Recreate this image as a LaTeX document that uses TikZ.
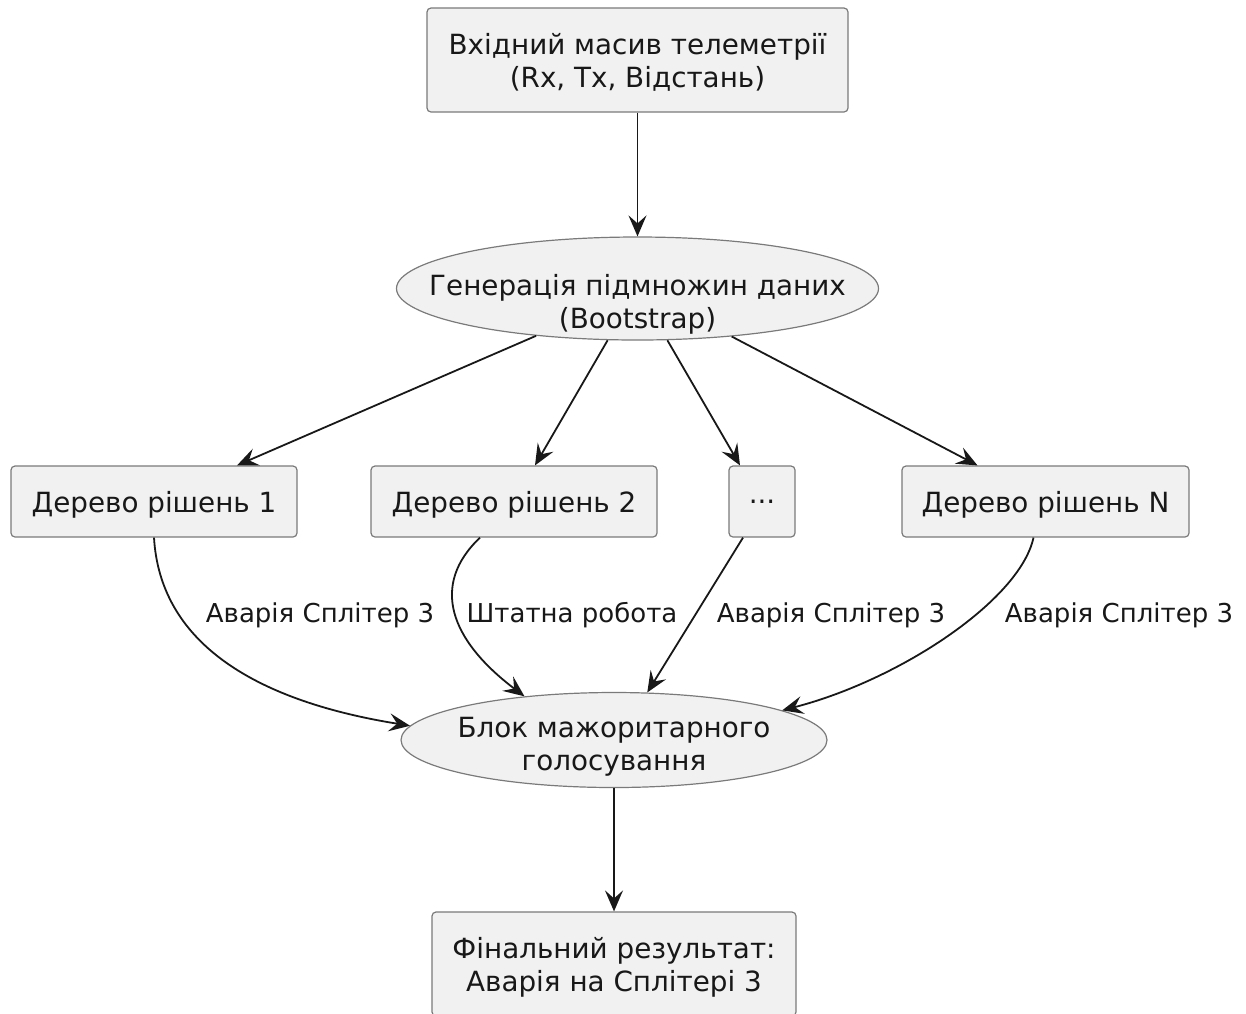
\documentclass[tikz,border=0pt]{standalone}
\usepackage{fontspec}
\setmainfont{DejaVu Sans}
\usetikzlibrary{shapes.geometric,arrows.meta}
\definecolor{boxfill}{HTML}{F1F1F1}
\definecolor{boxline}{HTML}{7A7A7A}
\definecolor{ink}{HTML}{181818}
% text of an oval, set without size so that the oval keeps its own dimensions
\newcommand\ovaltext[2]{\raisebox{#1}[0pt][0pt]{\makebox[0pt]{%
  \begin{tabular}{@{}c@{}}#2\end{tabular}}}}
\begin{document}
\begin{tikzpicture}[x=1pt,y=-1pt,
  font=\fontsize{27.8}{33}\selectfont,
  box/.style={draw=boxline, fill=boxfill, line width=1.2pt, rounded corners=4pt,
    align=center, inner sep=0pt, text depth=0pt, text=ink},
  oval/.style={ellipse, draw=boxline, fill=boxfill, line width=1.2pt,
    inner sep=0pt, text=ink},
  flow/.style={draw=ink, line width=1.8pt,
    -{Stealth[length=21pt,width=18pt,inset=8pt]}},
  lbl/.style={text=ink, inner sep=0pt, font=\fontsize{26}{31}\selectfont}
]
\useasboundingbox (0,0) rectangle (1246,1013);
\clip (0,0) rectangle (1246,1013);

% input data and bootstrap sampling
\node[box, minimum width=421pt, minimum height=104pt] (src) at (637.5,60)
  {Вхідний масив телеметрії\\(Rx, Tx, Відстань)};
\node[oval, minimum width=482pt, minimum height=103pt] (gen) at (637.5,288.5)
  {\ovaltext{-23pt}{Генерація підмножин даних\\(Bootstrap)}};

% the ensemble of decision trees
\node[box, minimum width=286pt, minimum height=71pt] (t1) at (154,501.5) {Дерево рішень 1};
\node[box, minimum width=286pt, minimum height=71pt] (t2) at (514,501.5) {Дерево рішень 2};
\node[box, minimum width=66pt, minimum height=71pt] (tdots) at (762,501.5) {...};
\node[box, minimum width=287pt, minimum height=71pt] (tn) at (1045.5,501.5) {Дерево рішень N};

% voting and final output
\node[oval, minimum width=426pt, minimum height=95pt] (vote) at (614,740)
  {\ovaltext{-14pt}{Блок мажоритарного\\голосування}};
\node[box, minimum width=364pt, minimum height=104pt] (res) at (614,964)
  {Фінальний результат:\\Аварія на Сплітері 3};

% connectors
\draw[flow] (src) -- (gen);
\draw[flow] (gen.205) -- ([xshift=83pt]t1.north);
\draw[flow] (gen.240) -- ([xshift=21pt]t2.north);
\draw[flow] (gen.300) -- ([xshift=-22pt]tdots.north);
\draw[flow] (gen.333) -- ([xshift=-68pt]tn.north);

\draw[flow] (t1.south) .. controls (160,640) and (250,700) .. (vote.176);
\draw[flow] ([xshift=-34pt]t2.south) .. controls (430,585) and (450,640) .. (vote.154);
\draw[flow] ([xshift=-19pt]tdots.south) -- (vote.55);
\draw[flow] ([xshift=-12pt]tn.south) .. controls (1020,600) and (900,680) .. (vote.10);
\draw[flow] (vote) -- (res);

% votes of the individual trees
\node[lbl] (l1) at (320,615) {Аварія Сплітер 3};
\node[lbl] (l2) at (572,615) {Штатна робота};
\node[lbl] (l3) at (831,615) {Аварія Сплітер 3};
\node[lbl] (l4) at (1119,615) {Аварія Сплітер 3};
\end{tikzpicture}
\end{document}
